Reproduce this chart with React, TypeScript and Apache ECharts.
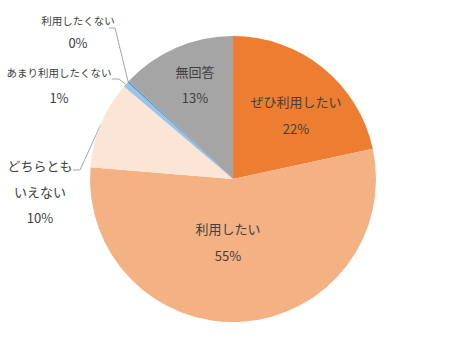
import React, { useEffect, useRef } from "react";
import * as echarts from "echarts";

const categories = ["ぜひ利用したい", "利用したい", "どちらともいえない", "あまり利用したくない", "利用したくない", "無回答"];
const values = [21.6, 54.7, 9.9, 0.6, 0.2, 13.0];
const colors = ["#ED7D31", "#F4B183", "#FBE5D6", "#9DC3E6", "#5B9BD5", "#A5A5A5"];
const outside = [false, false, true, true, true, false];
const smallName = [false, false, false, true, true, false];

// label centres (x, y) and leader-line elbow/end for outside labels
const labelPos: [number, number][] = [[296, 115], [228, 242], [40, 191], [59, 85], [78, 31], [195, 84]];
const lineElbow: ([number, number] | null)[] = [null, null, [80, 170], [119, 79], [115, 28], null];
const lineEnd: ([number, number] | null)[] = [null, null, [73, 170], [112, 79], [109, 28], null];
const lineHeights = [27, 27, 26, 25, 22, 26];

export default function App() {
  const ref = useRef<HTMLDivElement>(null);
  useEffect(() => {
    if (!ref.current) return;
    const chart = echarts.init(ref.current, undefined, { renderer: "svg" });
    const total = values.reduce((a, b) => a + b, 0);
    chart.setOption({
      animation: false,
      backgroundColor: "#ffffff",
      series: [
        {
          type: "pie",
          center: [233, 179],
          radius: [0, 143],
          startAngle: 90,
          clockwise: true,
          avoidLabelOverlap: false,
          label: {
            show: true,
            position: "inside",
            color: "#404040",
            fontSize: 13,
            fontFamily: "'Noto Sans CJK JP', sans-serif",
            align: "center",
            formatter: (p: any) => {
              const name = p.name === "どちらともいえない" ? "どちらとも\nいえない" : p.name;
              const pct = Math.round((p.value / total) * 100) + "%";
              return smallName[p.dataIndex] ? "{s|" + name + "}\n" + pct : name + "\n" + pct;
            },
          },
          labelLine: { show: false },
          labelLayout: (params: any) => {
            const i = params.dataIndex;
            const res: any = {
              x: labelPos[i][0],
              y: labelPos[i][1],
              align: "center",
              verticalAlign: "middle",
            };
            if (lineElbow[i] && params.labelLinePoints) {
              res.labelLinePoints = [params.labelLinePoints[0], lineElbow[i], lineEnd[i]];
            }
            return res;
          },
          data: categories.map((c, i) => ({
            name: c,
            value: values[i],
            itemStyle: { color: colors[i] },
            label: {
              position: outside[i] ? "outside" : "inside",
              lineHeight: lineHeights[i],
              rich: {
                s: {
                  fontSize: 10.5,
                  color: "#404040",
                  fontFamily: "'Noto Sans CJK JP', sans-serif",
                  lineHeight: lineHeights[i],
                },
              },
            },
            labelLine: outside[i]
              ? { show: true, length: 10, length2: 10, lineStyle: { color: "#A6A6A6", width: 1 } }
              : { show: false },
          })),
        },
      ],
    });
    return () => chart.dispose();
  }, []);
  return (
    <div
      ref={ref}
      style={{ position: "absolute", left: 0, top: 0, width: 466, height: 359 }}
    />
  );
}
